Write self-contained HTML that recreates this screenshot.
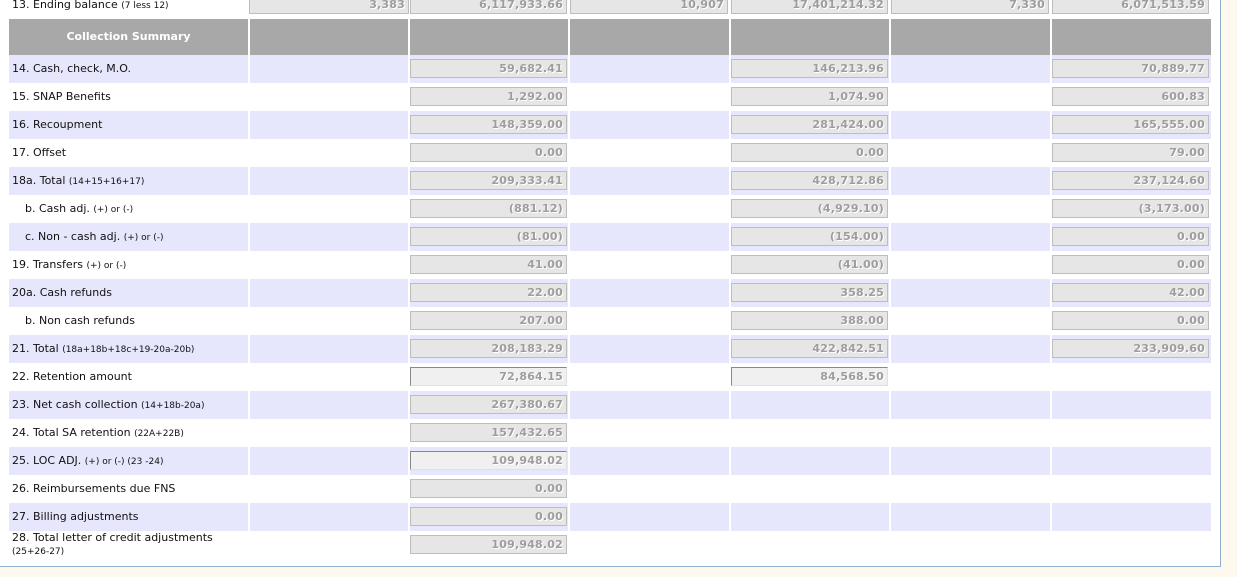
<!DOCTYPE html>
<html><head><meta charset="utf-8"><style>
body{margin:0;width:1237px;height:577px;background:#fdf9ee;position:relative;overflow:hidden;font-family:"DejaVu Sans","Liberation Sans",sans-serif;}
#panel{position:absolute;left:-2px;top:-2px;width:1222px;height:568px;background:#fff;border-right:1px solid #8fb0cf;border-bottom:1px solid #8fb0cf;}
.r{position:absolute;left:9px;width:1202px;height:28px;}
.lav{background:#e6e6fc;}
.sep{position:absolute;top:0;width:2px;height:100%;background:#fff;}
.lab{position:absolute;left:3px;top:7px;font-size:11px;color:#111;white-space:nowrap;}
.lab small{font-size:9px;}
.in{position:absolute;height:17px;background:#e6e6e6;border:1px solid #bdbdbd;font-weight:bold;font-size:11px;color:#9d9d9d;text-align:right;line-height:18px;padding-right:3px;box-sizing:content-box;text-shadow:1px 1px 0 #fff;letter-spacing:0.2px;}
.in.w{background:#f0f0f0;border-top:1px solid #888;border-left:1px solid #888;border-right:1px solid #e0e0e0;border-bottom:1px solid #e0e0e0;}
.hdr{position:absolute;top:19px;height:36px;background:#a8a8a8;}
</style></head><body>
<div id="panel"></div>
<div class="lab" style="left:12px;top:-2px">13. Ending balance <small>(7 less 12)</small></div>
<div class="in" style="left:249px;top:-5px;width:155px">3,383</div>
<div class="in" style="left:410px;top:-5px;width:152px">6,117,933.66</div>
<div class="in" style="left:570px;top:-5px;width:153px">10,907</div>
<div class="in" style="left:731px;top:-5px;width:152px">17,401,214.32</div>
<div class="in" style="left:891px;top:-5px;width:153px">7,330</div>
<div class="in" style="left:1052px;top:-5px;width:152px">6,071,513.59</div>
<div class="hdr" style="left:9px;width:239px;color:#fff;font-weight:bold;font-size:11px;text-align:center;line-height:36px">Collection Summary</div>
<div class="hdr" style="left:250px;width:158px"></div>
<div class="hdr" style="left:410px;width:158px"></div>
<div class="hdr" style="left:570px;width:159px"></div>
<div class="hdr" style="left:731px;width:158px"></div>
<div class="hdr" style="left:891px;width:159px"></div>
<div class="hdr" style="left:1052px;width:159px"></div>

<div class="r lav" style="top:55px"><div class="lab">14. Cash, check, M.O.</div></div>
<div class="r" style="top:83px"><div class="lab">15. SNAP Benefits</div></div>
<div class="r lav" style="top:111px"><div class="lab">16. Recoupment</div></div>
<div class="r" style="top:139px"><div class="lab">17. Offset</div></div>
<div class="r lav" style="top:167px"><div class="lab">18a. Total <small>(14+15+16+17)</small></div></div>
<div class="r" style="top:195px"><div class="lab" style="left:16px">b. Cash adj. <small>(+) or (-)</small></div></div>
<div class="r lav" style="top:223px"><div class="lab" style="left:16px">c. Non - cash adj. <small>(+) or (-)</small></div></div>
<div class="r" style="top:251px"><div class="lab">19. Transfers <small>(+) or (-)</small></div></div>
<div class="r lav" style="top:279px"><div class="lab">20a. Cash refunds</div></div>
<div class="r" style="top:307px"><div class="lab" style="left:16px">b. Non cash refunds</div></div>
<div class="r lav" style="top:335px"><div class="lab">21. Total <small>(18a+18b+18c+19-20a-20b)</small></div></div>
<div class="r" style="top:363px"><div class="lab">22. Retention amount</div></div>
<div class="r lav" style="top:391px"><div class="lab">23. Net cash collection <small>(14+18b-20a)</small></div></div>
<div class="r" style="top:419px"><div class="lab">24. Total SA retention <small>(22A+22B)</small></div></div>
<div class="r lav" style="top:447px"><div class="lab">25. LOC ADJ. <small>(+) or (-) (23 -24)</small></div></div>
<div class="r" style="top:475px"><div class="lab">26. Reimbursements due FNS</div></div>
<div class="r lav" style="top:503px"><div class="lab">27. Billing adjustments</div></div>
<div class="r" style="top:531px"><div class="lab" style="top:0px">28. Total letter of credit adjustments<br><small>(25+26-27)</small></div></div>

<div class="sep" style="left:248px;top:19px;height:512px;position:absolute"></div>
<div class="sep" style="left:408px;top:19px;height:512px;position:absolute"></div>
<div class="sep" style="left:568px;top:19px;height:512px;position:absolute"></div>
<div class="sep" style="left:729px;top:19px;height:512px;position:absolute"></div>
<div class="sep" style="left:889px;top:19px;height:512px;position:absolute"></div>
<div class="sep" style="left:1050px;top:19px;height:512px;position:absolute"></div>

<div class="in" style="left:410px;top:59px;width:152px">59,682.41</div>
<div class="in" style="left:410px;top:87px;width:152px">1,292.00</div>
<div class="in" style="left:410px;top:115px;width:152px">148,359.00</div>
<div class="in" style="left:410px;top:143px;width:152px">0.00</div>
<div class="in" style="left:410px;top:171px;width:152px">209,333.41</div>
<div class="in" style="left:410px;top:199px;width:152px">(881.12)</div>
<div class="in" style="left:410px;top:227px;width:152px">(81.00)</div>
<div class="in" style="left:410px;top:255px;width:152px">41.00</div>
<div class="in" style="left:410px;top:283px;width:152px">22.00</div>
<div class="in" style="left:410px;top:311px;width:152px">207.00</div>
<div class="in" style="left:410px;top:339px;width:152px">208,183.29</div>
<div class="in w" style="left:410px;top:367px;width:152px">72,864.15</div>
<div class="in" style="left:410px;top:395px;width:152px">267,380.67</div>
<div class="in" style="left:410px;top:423px;width:152px">157,432.65</div>
<div class="in w" style="left:410px;top:451px;width:152px">109,948.02</div>
<div class="in" style="left:410px;top:479px;width:152px">0.00</div>
<div class="in" style="left:410px;top:507px;width:152px">0.00</div>
<div class="in" style="left:410px;top:535px;width:152px">109,948.02</div>
<div class="in" style="left:731px;top:59px;width:152px">146,213.96</div>
<div class="in" style="left:731px;top:87px;width:152px">1,074.90</div>
<div class="in" style="left:731px;top:115px;width:152px">281,424.00</div>
<div class="in" style="left:731px;top:143px;width:152px">0.00</div>
<div class="in" style="left:731px;top:171px;width:152px">428,712.86</div>
<div class="in" style="left:731px;top:199px;width:152px">(4,929.10)</div>
<div class="in" style="left:731px;top:227px;width:152px">(154.00)</div>
<div class="in" style="left:731px;top:255px;width:152px">(41.00)</div>
<div class="in" style="left:731px;top:283px;width:152px">358.25</div>
<div class="in" style="left:731px;top:311px;width:152px">388.00</div>
<div class="in" style="left:731px;top:339px;width:152px">422,842.51</div>
<div class="in w" style="left:731px;top:367px;width:152px">84,568.50</div>
<div class="in" style="left:1052px;top:59px;width:152px">70,889.77</div>
<div class="in" style="left:1052px;top:87px;width:152px">600.83</div>
<div class="in" style="left:1052px;top:115px;width:152px">165,555.00</div>
<div class="in" style="left:1052px;top:143px;width:152px">79.00</div>
<div class="in" style="left:1052px;top:171px;width:152px">237,124.60</div>
<div class="in" style="left:1052px;top:199px;width:152px">(3,173.00)</div>
<div class="in" style="left:1052px;top:227px;width:152px">0.00</div>
<div class="in" style="left:1052px;top:255px;width:152px">0.00</div>
<div class="in" style="left:1052px;top:283px;width:152px">42.00</div>
<div class="in" style="left:1052px;top:311px;width:152px">0.00</div>
<div class="in" style="left:1052px;top:339px;width:152px">233,909.60</div>
</body></html>
